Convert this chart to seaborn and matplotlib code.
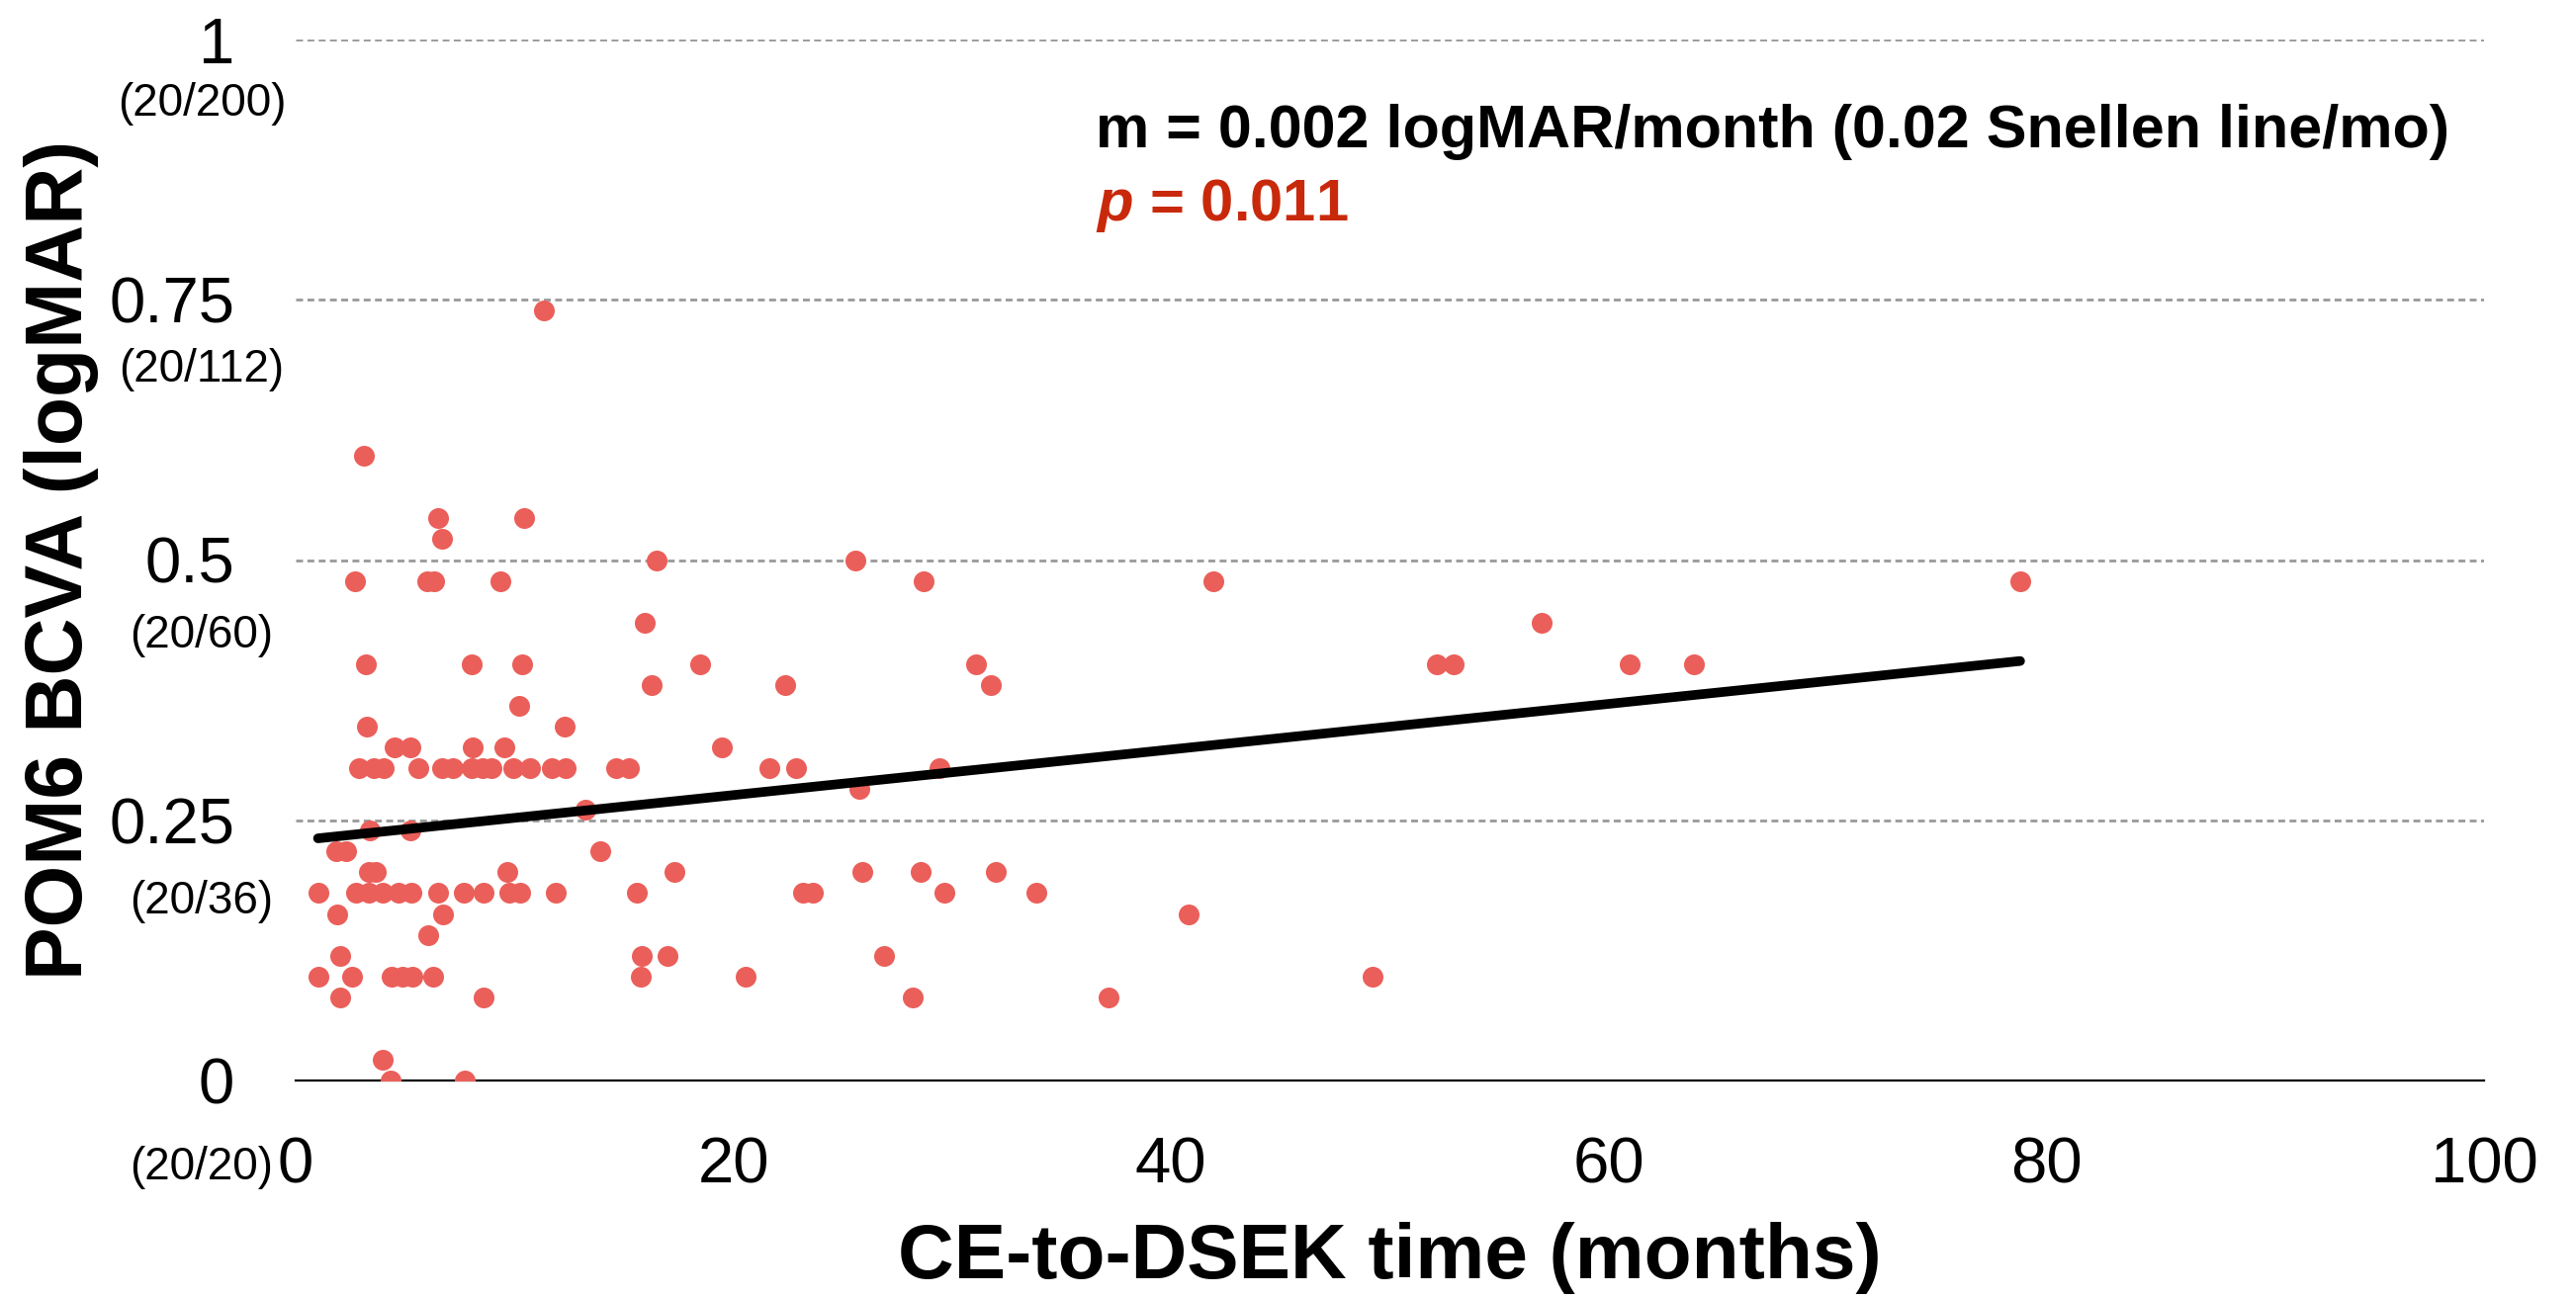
import matplotlib
matplotlib.use("Agg")
import matplotlib.pyplot as plt
import matplotlib.transforms as mtransforms
import numpy as np
import pandas as pd
import seaborn as sns

# CE-to-DSEK interval (months) and POM6 BCVA (logMAR), grouped by logMAR row
rows = {
    0.74: [11.33],
    0.60: [3.13],
    0.54: [6.49, 10.42],
    0.52: [6.70],
    0.50: [16.5, 25.58],
    0.48: [2.71, 6.0, 6.34, 9.34, 28.68, 41.95, 78.8],
    0.44: [15.94, 56.95],
    0.40: [3.22, 8.06, 10.33, 18.5, 31.09, 52.15, 52.9, 60.95, 63.9],
    0.38: [16.28, 22.35, 31.77],
    0.36: [10.23],
    0.34: [3.25, 12.29],
    0.32: [4.53, 5.24, 8.10, 9.53, 19.48],
    0.30: [2.91, 3.59, 4.0, 5.59, 6.70, 7.20, 8.03, 8.56, 8.93, 9.96, 10.71,
           11.72, 12.32, 14.63, 15.23, 21.64, 22.85, 29.42],
    0.28: [25.76],
    0.26: [13.25],
    0.24: [3.39, 5.26],
    0.22: [1.85, 2.30, 13.9],
    0.20: [3.36, 3.66, 9.66, 17.31, 25.9, 28.54, 31.99],
    0.18: [1.02, 2.76, 3.36, 3.96, 4.71, 5.29, 6.49, 7.68, 8.57, 9.76, 10.24,
           11.87, 15.58, 23.17, 23.63, 29.64, 33.83],
    0.16: [1.90, 6.72, 40.8],
    0.14: [6.07],
    0.12: [2.02, 15.8, 16.99, 26.89],
    0.10: [1.05, 2.56, 4.38, 4.87, 5.32, 6.27, 15.77, 20.55, 49.2],
    0.08: [2.02, 8.6, 28.18, 37.16],
    0.02: [3.99],
    0.00: [4.35, 7.73],
}
months = [m for v, ms in rows.items() for m in ms]
bcva = [v for v, ms in rows.items() for m in ms]
df = pd.DataFrame({"months": months, "bcva": bcva})

# reported trend line (as drawn in the figure)
fit_intercept = 0.2304
fit_slope = 0.00219

yticks = [0, 0.25, 0.5, 0.75, 1]
ytick_labels = ["0", "0.25", "0.5", "0.75", "1"]
snellen = ["(20/20)", "(20/36)", "(20/60)", "(20/112)", "(20/200)"]
xticks = [0, 20, 40, 60, 80, 100]

dot_color = "#EB5F5A"
p_color = "#C9290B"

sns.set_style("white")
plt.rcParams["font.family"] = ["Liberation Sans", "DejaVu Sans"]
plt.rcParams["mathtext.fontset"] = "custom"
plt.rcParams["mathtext.it"] = "Liberation Sans:italic:bold"
for key in ["text.color", "axes.labelcolor", "xtick.color", "ytick.color"]:
    plt.rcParams[key] = "black"

fig = plt.figure(figsize=(26.05, 13.12), dpi=100)
ax = fig.add_axes([299 / 2605, 1 - 1093 / 1312, 2213 / 2605, 1053 / 1312])

sns.scatterplot(data=df, x="months", y="bcva", ax=ax, s=229, color=dot_color,
                linewidth=0, alpha=1, zorder=3)

fit_x = np.array([df["months"].min(), df["months"].max()])
sns.lineplot(x=fit_x, y=fit_intercept + fit_slope * fit_x, ax=ax,
             color="black", lw=7, zorder=4)

ax.set_xlim(0, 100)
ax.set_ylim(0, 1)
ax.set_xticks(xticks)
ax.set_xticklabels([str(t) for t in xticks])
ax.set_yticks(yticks)
ax.set_yticklabels(ytick_labels)
ax.tick_params(axis="x", length=0, pad=41, labelsize=47)
ax.tick_params(axis="y", length=0, pad=44.5, labelsize=47)

ax.grid(axis="y", color="#999999", linestyle=(0, (2.5, 1.6)), linewidth=2)
ax.grid(axis="x", visible=False)
ax.set_axisbelow(True)
for side in ["top", "right", "left"]:
    ax.spines[side].set_visible(False)
ax.spines["bottom"].set_color("black")
ax.spines["bottom"].set_linewidth(1.6)
ax.spines["bottom"].set_zorder(2)

# Snellen equivalents under each logMAR tick
trans = mtransforms.blended_transform_factory(ax.transAxes, ax.transData)
for t, s in zip(yticks, snellen):
    ax.text(-0.0429, t - 0.062 - 0.022 * (1 - t), s, transform=trans,
            ha="center", va="center", fontsize=33, clip_on=False)

ax.set_xlabel("CE-to-DSEK time (months)", fontsize=56.5, fontweight="bold",
              va="baseline")
ax.xaxis.set_label_coords(0.5, -0.190)
ax.set_ylabel("POM6 BCVA (logMAR)", fontsize=58, fontweight="bold",
              va="baseline")
ax.yaxis.set_label_coords(-0.0976, 0.5)

ax.text(36.56, 0.8965, "m = 0.002 logMAR/month (0.02 Snellen line/mo)",
        fontsize=44, fontweight="bold", va="baseline", ha="left")
ax.text(36.56, 0.826, r"$p$ = 0.011", fontsize=43, fontweight="bold",
        color=p_color, va="baseline", ha="left")

fig.savefig("out.png", dpi=100)
